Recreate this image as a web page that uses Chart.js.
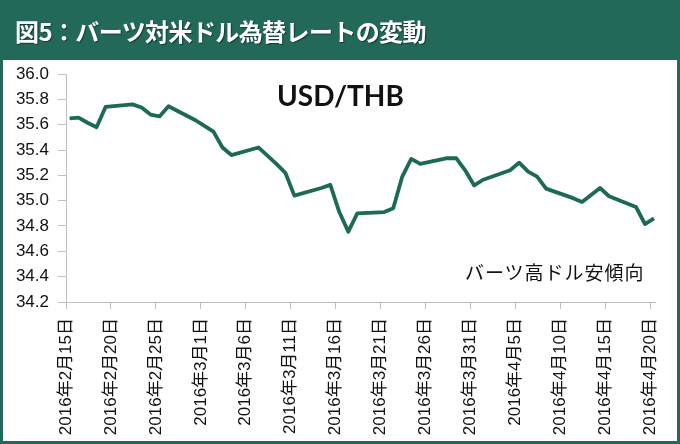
<!DOCTYPE html>
<html>
<head>
<meta charset="utf-8">
<script src="https://cdn.jsdelivr.net/npm/chart.js@4"></script>
<style>
  body { margin: 0; }
  #frame { position: relative; width: 680px; height: 444px; background: #22695a; overflow: hidden; }
  #panel { position: absolute; left: 3px; top: 60px; width: 674px; height: 381px; background: #fff; }
  #title {
    position: absolute; left: 15px; top: 19px; margin: 0; letter-spacing: -0.6px;
    font: bold 24px 'Noto Sans CJK JP', sans-serif; line-height: 24px;
    color: #fff; text-shadow: 1px 1px 1px rgba(0,0,0,0.45); white-space: nowrap;
  }
  #pair {
    position: absolute; left: 277px; top: 81px;
    font: bold 28px Lato, 'Liberation Sans', sans-serif; line-height: 28px; color: #111;
  }
  #note {
    position: absolute; left: 465px; top: 262px; letter-spacing: 1px;
    font: 19px 'Noto Sans CJK JP', sans-serif; line-height: 19px; color: #111;
  }
  canvas { position: absolute; left: 0; top: 0; }
</style>
</head>
<body>
<div id="frame">
  <div id="panel"></div>
  <canvas id="chart" width="680" height="444"></canvas>
  <div id="title">図5：バーツ対米ドル為替レートの変動</div>
  <div id="pair">USD/THB</div>
  <div id="note">バーツ高ドル安傾向</div>
</div>
<script>
// trading days and USD/THB close
const dates = [
    '2016-02-15', '2016-02-16', '2016-02-17', '2016-02-18', '2016-02-19',
    '2016-02-22', '2016-02-23', '2016-02-24', '2016-02-25', '2016-02-26',
    '2016-02-29', '2016-03-01', '2016-03-02', '2016-03-03', '2016-03-04',
    '2016-03-07', '2016-03-08', '2016-03-09', '2016-03-10', '2016-03-11',
    '2016-03-14', '2016-03-15', '2016-03-16', '2016-03-17', '2016-03-18',
    '2016-03-21', '2016-03-22', '2016-03-23', '2016-03-24', '2016-03-25',
    '2016-03-28', '2016-03-29', '2016-03-30', '2016-03-31', '2016-04-01',
    '2016-04-04', '2016-04-05', '2016-04-06', '2016-04-07', '2016-04-08',
    '2016-04-11', '2016-04-12', '2016-04-13', '2016-04-14', '2016-04-15',
    '2016-04-18', '2016-04-19', '2016-04-20'
];
const usdThb = [
    35.65, 35.655, 35.615, 35.58, 35.74,
    35.76, 35.735, 35.68, 35.665, 35.745,
    35.635, 35.59, 35.545, 35.42, 35.36,
    35.42, 35.355, 35.29, 35.22, 35.04,
    35.10, 35.125, 34.91, 34.755, 34.90,
    34.91, 34.94, 35.19, 35.33, 35.29,
    35.335, 35.335, 35.24, 35.12, 35.165,
    35.24, 35.30, 35.23, 35.19, 35.095,
    35.02, 34.99, 35.045, 35.10, 35.035,
    34.95, 34.815, 34.86
];
const xTickLabels = [
    '2016年2月15日', '2016年2月20日', '2016年2月25日', '2016年3月1日',
    '2016年3月6日', '2016年3月11日', '2016年3月16日', '2016年3月21日',
    '2016年3月26日', '2016年3月31日', '2016年4月5日', '2016年4月10日',
    '2016年4月15日', '2016年4月20日'
];
const yMin = 34.2;
const yMax = 36.0;
const yStep = 0.2;

const DAY_MS = 864e5;
const TICK_EVERY = 5;     // days between labelled ticks
const IN_DAY = 0.4;       // points sit a bit inside their day slot

const startMs = Date.parse(dates[0]);
const points = dates.map((d, i) => ({
    x: (Date.parse(d) - startMs) / DAY_MS + IN_DAY,
    y: usdThb[i]
}));

const axisGrey = '#bfbfbf';
const labelFont = { family: "'Liberation Sans', 'Noto Sans CJK JP', sans-serif", size: 17 };

new Chart(document.getElementById('chart'), {
    type: 'line',
    data: {
        datasets: [{
            data: points,
            borderColor: '#1c6a56',
            borderWidth: 3.8,
            pointRadius: 0,
            tension: 0,
            borderJoinStyle: 'round'
        }]
    },
    options: {
        responsive: false,
        animation: false,
        devicePixelRatio: 1,
        layout: { padding: { top: 74, right: 23, left: 0, bottom: 0 } },
        plugins: { legend: { display: false }, tooltip: { enabled: false } },
        scales: {
            x: {
                type: 'linear',
                min: 0,
                max: 65.6,
                afterBuildTicks: (scale) => {
                    scale.ticks = xTickLabels.map((_, i) => ({ value: i * TICK_EVERY }));
                },
                afterFit: (scale) => { scale.height = 142; },
                ticks: {
                    autoSkip: false,
                    minRotation: 90,
                    maxRotation: 90,
                    padding: 9,
                    color: '#111',
                    font: labelFont,
                    callback: (value) => xTickLabels[value / TICK_EVERY]
                },
                grid: { drawOnChartArea: false, drawTicks: true, tickLength: 7, color: axisGrey },
                border: { display: true, color: axisGrey, width: 1 }
            },
            y: {
                min: yMin,
                max: yMax,
                afterFit: (scale) => { scale.width = 66; },
                ticks: {
                    stepSize: yStep,
                    padding: 9,
                    color: '#111',
                    font: labelFont,
                    callback: (value) => value.toFixed(1)
                },
                grid: { drawOnChartArea: false, drawTicks: true, tickLength: 8, color: axisGrey },
                border: { display: true, color: axisGrey, width: 1 }
            }
        }
    }
});
</script>
</body>
</html>
